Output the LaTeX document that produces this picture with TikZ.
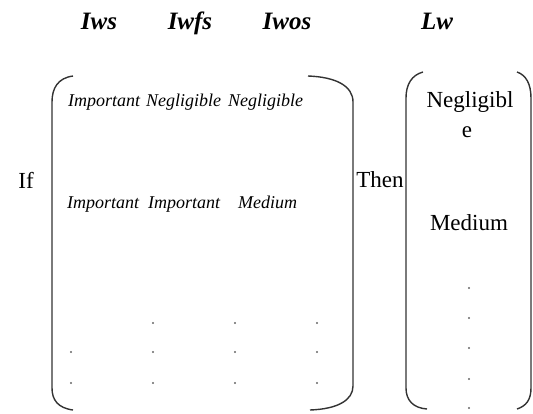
\documentclass[tikz,border=0pt]{standalone}
\usepackage{fontspec}
\setmainfont{Liberation Serif}
\begin{document}
\begin{tikzpicture}[x=1pt,y=-1pt,
  hdr/.style={font=\fontsize{25}{28}\selectfont\bfseries\itshape, anchor=base, inner sep=0pt},
  cell/.style={font=\fontsize{18}{21}\selectfont\itshape, anchor=base west, inner sep=0pt},
  word/.style={font=\fontsize{23}{26}\selectfont, anchor=base, inner sep=0pt},
  brk/.style={line width=1.4pt, draw=black!80},
  dotm/.style={circle, fill=black!60, inner sep=0pt, minimum size=2.2pt}]
\useasboundingbox (0,0) rectangle (533,413);
% headers
\node[hdr] (h1) at (99,29) {Iws};
\node[hdr] (h2) at (190,29) {Iwfs};
\node[hdr] (h3) at (287,29) {Iwos};
\node[hdr] (h4) at (437,29) {Lw};
% left matrix brackets
\draw[brk] (73,76) .. controls (58,78) and (52,88) .. (52,102) -- (52,388) .. controls (52,400) and (58,408) .. (73,410);
\draw[brk] (308,76) .. controls (336,77) and (353,86) .. (353,102) -- (353,386) .. controls (353,400) and (338,409) .. (310,410);
% right matrix brackets
\draw[brk] (423,72) .. controls (412,75) and (406,84) .. (406,98) -- (406,388) .. controls (406,400) and (413,408) .. (427,409);
\draw[brk] (517,72) .. controls (526,75) and (531,84) .. (531,98) -- (531,388) .. controls (531,400) and (526,406) .. (517,409);
% texts
\node[word] (if) at (26,188) {If};
\node[word] (then) at (380,187) {Then};
\node[cell] (r1a) at (68,106) {Important};
\node[cell] (r1b) at (146,106) {Negligible};
\node[cell] (r1c) at (228,106) {Negligible};
\node[cell] (r2a) at (67,208) {Important};
\node[cell] (r2b) at (148,208) {Important};
\node[cell] (r2c) at (238,208) {Medium};
\node[word] (n1) at (470,107) {Negligibl};
\node[word] (n2) at (467,137) {e};
\node[word] (m1) at (469,230) {Medium};
% dots
\foreach \x in {153,235,317}{
  \foreach \y in {323,352,383}{ \node[dotm] at (\x,\y) {}; }
}
\foreach \y in {352,383}{ \node[dotm] at (71,\y) {}; }
\foreach \y in {288,318,348,379,408}{ \node[dotm] at (469,\y) {}; }
\end{tikzpicture}
\end{document}
